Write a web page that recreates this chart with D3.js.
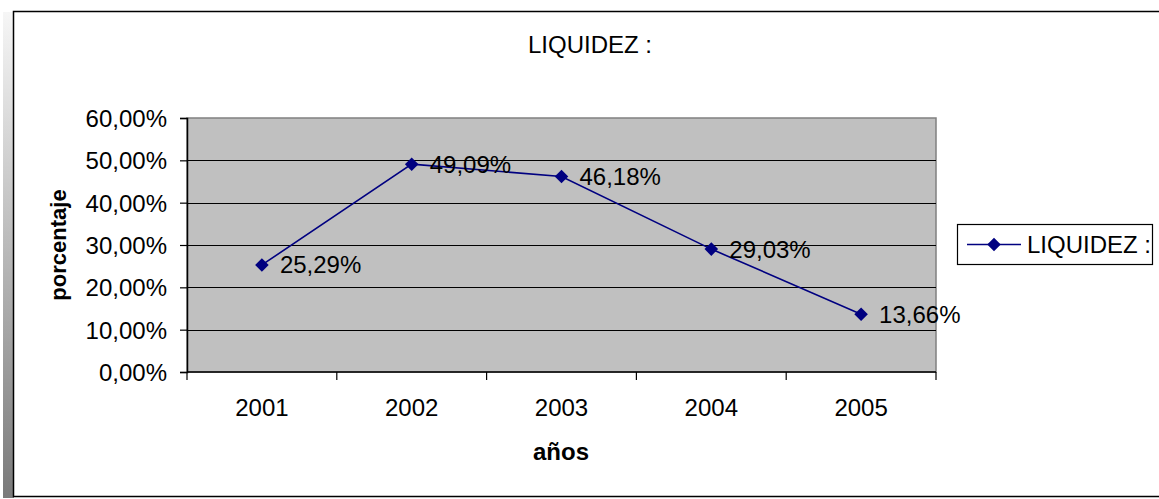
<!DOCTYPE html>
<html>
<head>
<meta charset="utf-8">
<script src="https://cdn.jsdelivr.net/npm/d3@7"></script>
<style>
  body { margin: 0; background: #fff; }
  svg text { font-family: "Liberation Sans", Arial, sans-serif; fill: #000; }
</style>
</head>
<body>
<script>
// datos del grafico
const years = ["2001", "2002", "2003", "2004", "2005"];
const liquidez = [25.29, 49.09, 46.18, 29.03, 13.66];
const yTicks = [0, 10, 20, 30, 40, 50, 60];
const seriesName = "LIQUIDEZ :";

const W = 1159, H = 499;
const plot = {left: 187, right: 936, top: 118, bottom: 372};
const navy = "#000080";
const fs = "24px";
const fmt = v => d3.format(".2f")(v).replace(".", ",") + "%";

let svg = d3.select("body").append("svg")
    .attr("width", W).attr("height", H);

// sombra izquierda
let grad = svg.append("defs").append("linearGradient")
    .attr("id", "shade").attr("x1", 0).attr("y1", 0).attr("x2", 0).attr("y2", 1);
grad.append("stop").attr("offset", "0%").attr("stop-color", "#f6f6f6");
grad.append("stop").attr("offset", "100%").attr("stop-color", "#7a7a7a");
svg.append("rect").attr("x", 3).attr("y", 12).attr("width", 11).attr("height", 486)
    .attr("fill", "url(#shade)");

// marco del grafico
svg.append("rect").attr("x", 13.5).attr("y", 11.5).attr("width", 1160).attr("height", 485)
    .attr("fill", "#fff").attr("stroke", "#000").attr("stroke-width", 1.5);

let x = d3.scaleBand().domain(years).range([plot.left, plot.right]).padding(0);
let y = d3.scaleLinear().domain([0, 60]).range([plot.bottom, plot.top]);

// area de trazado
svg.append("rect")
    .attr("x", plot.left).attr("y", plot.top)
    .attr("width", plot.right - plot.left).attr("height", plot.bottom - plot.top)
    .attr("fill", "#c0c0c0").attr("stroke", "#808080").attr("stroke-width", 1.5);

// lineas de division
svg.append("g").selectAll("line")
    .data(yTicks.filter(t => t > 0 && t < 60)).enter().append("line")
    .attr("x1", plot.left).attr("x2", plot.right)
    .attr("y1", d => Math.round(y(d)) + 0.5).attr("y2", d => Math.round(y(d)) + 0.5)
    .attr("stroke", "#000").attr("stroke-width", 1);

// eje y
let yAxis = svg.append("g")
    .attr("transform", "translate(" + plot.left + ",0)")
    .call(d3.axisLeft(y).tickValues(yTicks).tickSize(7).tickPadding(13)
        .tickFormat(d => d3.format(".2f")(d).replace(".", ",") + "%"));
yAxis.attr("font-family", null).attr("font-size", null);
yAxis.select(".domain").attr("stroke", "#000").attr("stroke-width", 1.5);
yAxis.selectAll(".tick line").attr("stroke", "#000").attr("stroke-width", 1.2);
yAxis.selectAll("text").attr("font-size", fs).attr("dy", "0.35em");

// eje x
let edges = years.map(d => x(d)).concat([plot.right]);
let xAxis = svg.append("g");
xAxis.append("line")
    .attr("x1", plot.left).attr("x2", plot.right)
    .attr("y1", plot.bottom).attr("y2", plot.bottom)
    .attr("stroke", "#000").attr("stroke-width", 1.5);
xAxis.selectAll(".xt").data(edges).enter().append("line")
    .attr("x1", d => d).attr("x2", d => d)
    .attr("y1", plot.bottom).attr("y2", plot.bottom + 8)
    .attr("stroke", "#000").attr("stroke-width", 1.2);
xAxis.selectAll(".xl").data(years).enter().append("text")
    .attr("x", d => x(d) + x.bandwidth() / 2)
    .attr("y", 416)
    .attr("text-anchor", "middle").attr("font-size", fs)
    .text(d => d);

// serie
let pts = years.map((d, i) => [x(d) + x.bandwidth() / 2, y(liquidez[i])]);
svg.append("path")
    .attr("d", d3.line()(pts))
    .attr("fill", "none").attr("stroke", navy).attr("stroke-width", 1.6);

// rombo: cuadrado girado 45 grados
let diamond = d3.symbol().type(d3.symbolSquare).size(92);
svg.append("g").selectAll("path")
    .data(pts).enter().append("path")
    .attr("transform", d => "translate(" + d[0] + "," + d[1] + ") rotate(45)")
    .attr("d", diamond).attr("fill", navy);

svg.append("g").selectAll("text")
    .data(pts).enter().append("text")
    .attr("x", d => d[0] + 18).attr("y", d => d[1])
    .attr("dy", "0.35em").attr("font-size", fs)
    .text((d, i) => fmt(liquidez[i]));

// titulos
svg.append("text").attr("x", 590).attr("y", 53)
    .attr("text-anchor", "middle").attr("font-size", fs).text(seriesName);
svg.append("text").attr("x", 561).attr("y", 460)
    .attr("text-anchor", "middle").attr("font-size", "24px").attr("font-weight", "bold").text("años");
svg.append("text")
    .attr("transform", "translate(66," + (plot.top + plot.bottom) / 2 + ") rotate(-90)")
    .attr("text-anchor", "middle").attr("font-size", "22px").attr("font-weight", "bold").text("porcentaje");

// leyenda
let leg = svg.append("g");
leg.append("rect").attr("x", 957.5).attr("y", 224.5).attr("width", 195).attr("height", 40)
    .attr("fill", "#fff").attr("stroke", "#000").attr("stroke-width", 1.2);
leg.append("line").attr("x1", 967).attr("x2", 1021).attr("y1", 244.5).attr("y2", 244.5)
    .attr("stroke", navy).attr("stroke-width", 1.6);
leg.append("path").attr("transform", "translate(994,244.5) rotate(45)")
    .attr("d", diamond).attr("fill", navy);
leg.append("text").attr("x", 1027).attr("y", 244.5).attr("dy", "0.35em")
    .attr("font-size", fs).text(seriesName);
</script>
</body>
</html>
